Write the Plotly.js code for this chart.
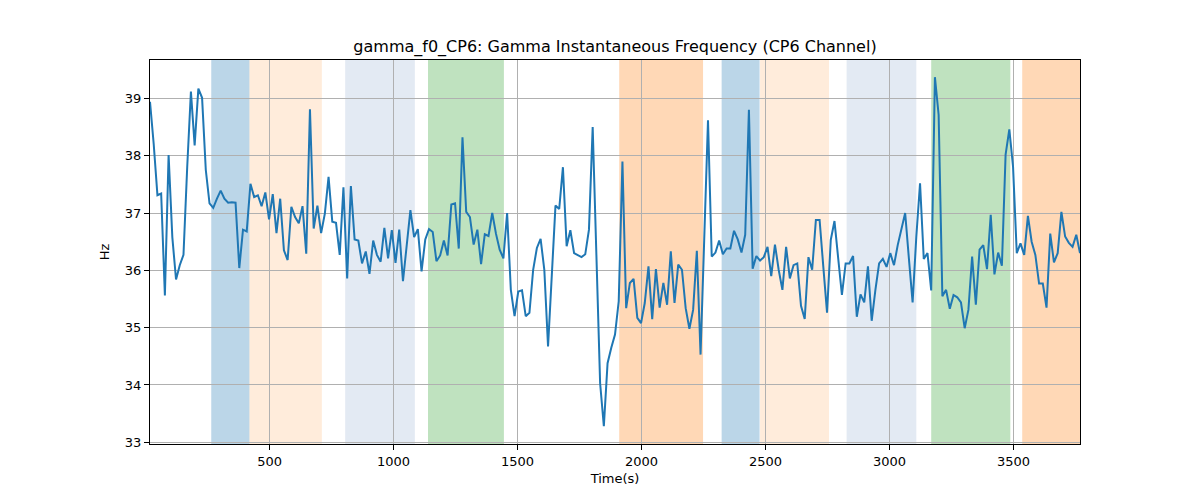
<!DOCTYPE html>
<html>
<head>
<meta charset="utf-8">
<script src="https://cdn.plot.ly/plotly-3.0.1.min.js"></script>
<style>
  body { margin: 0; background: #fff; }
  #chart { width: 1200px; height: 500px; }
</style>
</head>
<body>
<div id="chart"></div>
<script>
// sampling of the frequency track (seconds)
const timeStart = 18;
const timeStep = 15;

// instantaneous frequency, Hz
const freqHz = [
  38.94, 38.2, 37.31, 37.34, 35.56, 38.01, 36.58, 35.84, 36.09, 36.27,
  37.8, 39.12, 38.18, 39.17, 39.01, 37.75, 37.17, 37.09, 37.25, 37.39,
  37.25, 37.18, 37.19, 37.18, 36.04, 36.71, 36.68, 37.51, 37.28, 37.31,
  37.12, 37.36, 36.89, 37.33, 36.65, 37.25, 36.35, 36.18, 37.11, 36.93,
  36.82, 37.12, 36.29, 38.81, 36.73, 37.13, 36.65, 36.99, 37.63, 36.85,
  36.83, 36.27, 37.45, 35.86, 37.47, 36.54, 36.52, 36.12, 36.33, 35.94,
  36.52, 36.27, 36.15, 36.74, 36.21, 36.70, 36.13, 36.71, 35.81, 36.47,
  37.05, 36.58, 36.72, 35.98, 36.54, 36.72, 36.67, 36.16, 36.26, 36.52,
  36.26, 37.15, 37.17, 36.38, 38.32, 37.02, 36.93, 36.45, 36.71, 36.11,
  36.63, 36.60, 37.0, 36.64, 36.36, 36.21, 37.0, 35.66, 35.20, 35.63,
  35.65, 35.20, 35.26, 36.01, 36.39, 36.55, 36.01, 34.67, 35.9, 37.13,
  37.07, 37.80, 36.42, 36.70, 36.30, 36.26, 36.23, 36.28, 36.71, 38.5,
  36.1, 34.03, 33.28, 34.38, 34.65, 34.88, 35.46, 37.90, 35.34, 35.78,
  35.85, 35.17, 35.08, 35.43, 36.07, 35.15, 36.02, 35.35, 35.78, 35.40,
  36.33, 35.43, 36.10, 36.01, 35.34, 34.98, 35.31, 36.34, 34.53, 36.4,
  38.62, 36.24, 36.31, 36.52, 36.28, 36.38, 36.38, 36.69, 36.54, 36.31,
  36.62, 38.80, 36.03, 36.25, 36.17, 36.23, 36.41, 35.90, 36.45, 36.01,
  35.66, 36.41, 35.86, 36.09, 36.12, 35.38, 35.15, 36.23, 36.01, 36.88,
  36.88, 36.06, 35.26, 36.53, 36.86, 36.21, 35.57, 36.12, 36.12, 36.25,
  35.19, 35.58, 35.44, 36.07, 35.12, 35.66, 36.12, 36.20, 36.06, 36.30,
  36.09, 36.44, 36.70, 37.0, 36.21, 35.44, 36.59, 37.52, 36.20, 36.30,
  35.65, 39.37, 38.71, 35.55, 35.66, 35.33, 35.57, 35.53, 35.44, 34.99,
  35.31, 36.24, 35.40, 36.36, 36.44, 36.02, 36.97, 35.93, 36.31, 36.08,
  38.02, 38.46, 37.81, 36.30, 36.47, 36.27, 36.95, 36.50, 36.27, 35.77,
  35.77, 35.35, 36.64, 36.14, 36.30, 37.02, 36.59, 36.48, 36.41, 36.62,
  36.30
];

// shaded intervals (seconds) and their fill colours
const spanStart = [265, 419, 805, 1139, 1910, 2323, 2478, 2827, 3168, 3535];
const spanEnd   = [419, 711, 1086, 1445, 2248, 2476, 2756, 3108, 3487, 3800];
const spanColor = [
  'rgba(31,119,180,0.3)', 'rgba(255,127,14,0.15)', 'rgba(176,196,222,0.35)',
  'rgba(44,160,44,0.3)', 'rgba(255,127,14,0.3)', 'rgba(31,119,180,0.3)',
  'rgba(255,127,14,0.15)', 'rgba(176,196,222,0.35)', 'rgba(44,160,44,0.3)',
  'rgba(255,127,14,0.3)'
];

const timeEnd = timeStart + timeStep * (freqHz.length - 1);

const shapes = spanStart.map((s, i) => ({
  type: 'rect',
  xref: 'x', yref: 'paper',
  x0: s, x1: spanEnd[i], y0: 0, y1: 1,
  fillcolor: spanColor[i],
  line: { width: 0 },
  layer: 'below'
}));

const trace = {
  type: 'scatter',
  mode: 'lines',
  x0: timeStart,
  dx: timeStep,
  y: freqHz,
  line: { color: '#1f77b4', width: 2 },
  hoverinfo: 'x+y'
};

const axisCommon = {
  showline: true,
  mirror: true,
  linecolor: '#000',
  linewidth: 1,
  ticks: 'outside',
  ticklen: 5,
  tickcolor: '#000',
  showgrid: true,
  gridcolor: '#b0b0b0',
  gridwidth: 1,
  zeroline: false,
  tickfont: { size: 13, color: '#000' }
};

const layout = {
  width: 1200,
  height: 500,
  margin: { l: 150, r: 120, t: 60, b: 56 },
  paper_bgcolor: '#fff',
  plot_bgcolor: '#fff',
  font: { family: 'DejaVu Sans, sans-serif', color: '#000' },
  showlegend: false,
  title: {
    text: 'gamma_f0_CP6: Gamma Instantaneous Frequency (CP6 Channel)',
    font: { size: 16, color: '#000' },
    x: 0.5125, xanchor: 'center',
    y: 0.908, yref: 'container', yanchor: 'middle'
  },
  xaxis: Object.assign({}, axisCommon, {
    range: [timeStart, timeEnd],
    tickvals: [500, 1000, 1500, 2000, 2500, 3000, 3500],
    title: { text: 'Time(s)', font: { size: 13 }, standoff: 6 }
  }),
  yaxis: Object.assign({}, axisCommon, {
    range: [32.97, 39.67],
    tickvals: [33, 34, 35, 36, 37, 38, 39],
    title: { text: 'Hz', font: { size: 13 }, standoff: 12 }
  }),
  shapes: shapes
};

Plotly.newPlot('chart', [trace], layout, { displayModeBar: false, staticPlot: true });
</script>
</body>
</html>
